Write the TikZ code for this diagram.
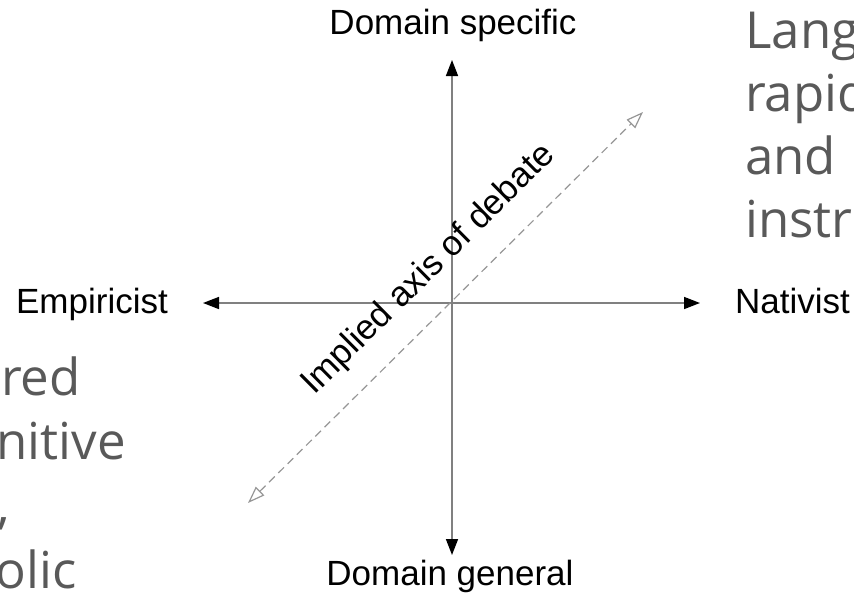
\documentclass[tikz,border=0pt]{standalone}
\usepackage{fontspec}
\newfontfamily\polefont{Liberation Sans}
\newfontfamily\notefont{Open Sans}
\usetikzlibrary{arrows.meta}
\definecolor{axisgray}{RGB}{128,128,128}
\definecolor{dashgray}{RGB}{150,150,150}
\definecolor{notegray}{RGB}{89,89,89}

\begin{document}
\begin{tikzpicture}[x=1pt,y=-1pt
  ,axis/.style={draw=axisgray,line width=1.6pt
               ,{Triangle[black,length=16pt,width=12pt]}-{Triangle[black,length=16pt,width=12pt]}}
  ,debate/.style={draw=dashgray,line width=1.2pt,dash pattern=on 8pt off 5pt
               ,{Triangle[open,length=17pt,width=12pt]}-{Triangle[open,length=17pt,width=12pt]}}
  ,pole/.style={font=\polefont\fontsize{35}{42}\selectfont,inner sep=0pt}
  ,note/.style={font=\notefont\fontsize{51}{63}\selectfont,text=notegray,inner sep=0pt}
  ]
  \path[use as bounding box] (0,0) rectangle (854,606);
  \clip (0,0) rectangle (854,606);

  % axes
  \coordinate (o) at (452,303);
  \coordinate (top) at (452,60);
  \coordinate (bot) at (452,555);
  \coordinate (west) at (203,303);
  \coordinate (east) at (700,303);
  \draw[axis] (bot) -- (top);
  \draw[axis] (west) -- (east);

  % implied axis
  \coordinate (lo) at (248,503);
  \coordinate (hi) at (643,112);
  \draw[debate] (lo) -- (hi);
  \node[pole,rotate=44.7,anchor=base west] (implied) at (314,396) {Implied axis of debate};

  % poles
  \node[pole,anchor=base] (spec) at (453,34) {Domain specific};
  \node[pole,anchor=base] (gen) at (450,585) {Domain general};
  \node[pole,anchor=base east] (emp) at (168,313) {Empiricist};
  \node[pole,anchor=base west] (nat) at (735,313) {Nativist};

  % notes cut by the frame
  \node[note,anchor=base west] (r1) at (745,48) {Lang};
  \node[note,anchor=base west] (r2) at (745,111) {rapid};
  \node[note,anchor=base west] (r3) at (745,174) {and};
  \node[note,anchor=base west] (r4) at (745,237) {instr};
  \node[note,anchor=base east] (l1) at (81,395) {red};
  \node[note,anchor=base east] (l2) at (126,459) {nitive};
  \node[note,anchor=base east] (l3) at (10,523) {,};
  \node[note,anchor=base east] (l4) at (77,588) {olic};
\end{tikzpicture}
\end{document}
